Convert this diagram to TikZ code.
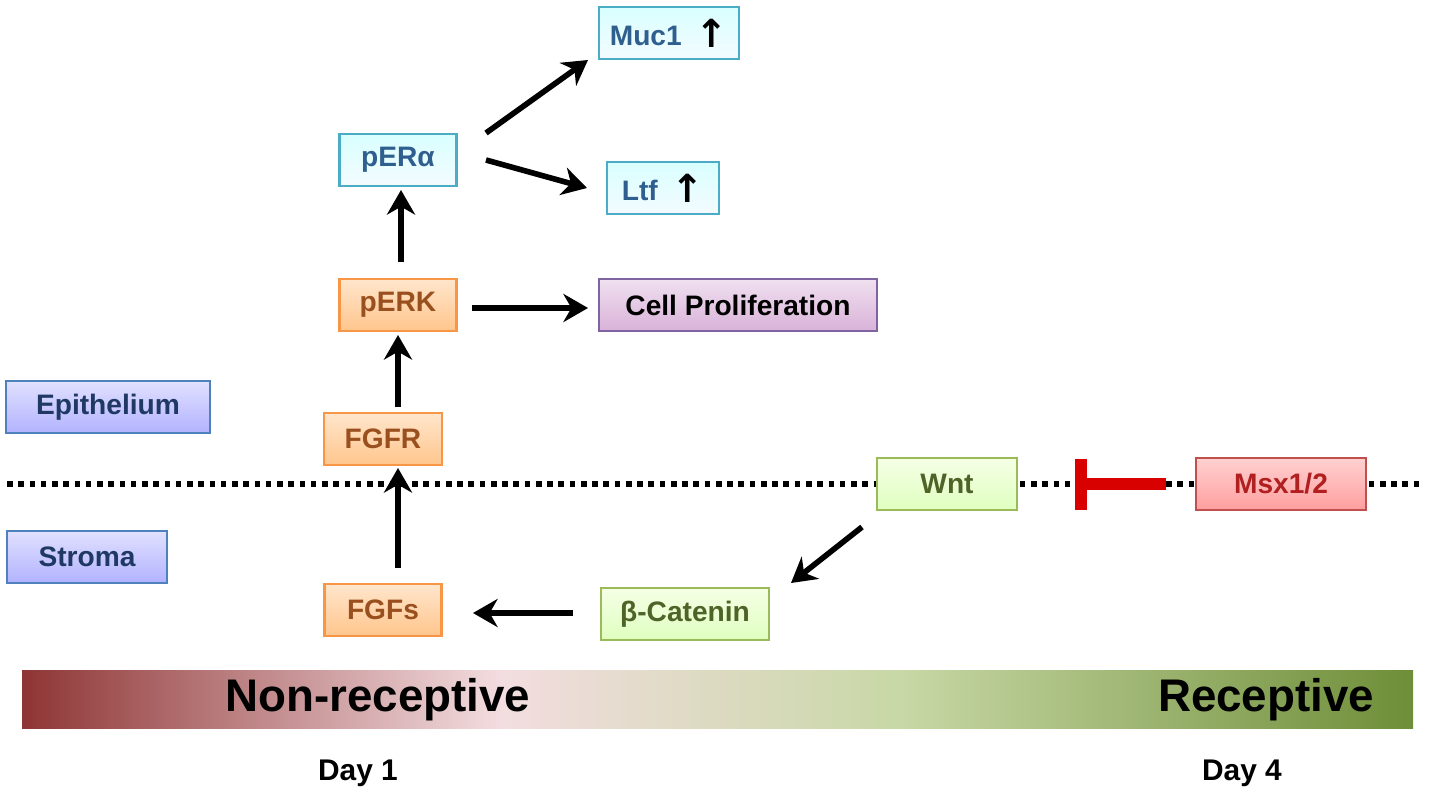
\documentclass[tikz,border=0pt]{standalone}
\usepackage{fontspec}
\setmainfont{Liberation Sans}
\newfontfamily\djv{DejaVu Sans}
\usetikzlibrary{arrows.meta}
\definecolor{bB}{HTML}{4BACC6}\definecolor{bT}{HTML}{2F5F8F}
\definecolor{oB}{HTML}{F79646}\definecolor{oT}{HTML}{9A4F1E}
\definecolor{pB}{HTML}{8064A2}
\definecolor{gB}{HTML}{9BBB59}\definecolor{gT}{HTML}{4F6228}
\definecolor{rB}{HTML}{C0504D}\definecolor{rT}{HTML}{B02020}
\definecolor{eB}{HTML}{4F81BD}\definecolor{eT}{HTML}{1F3864}
\definecolor{c1}{HTML}{8E3535}\definecolor{c2}{HTML}{F3DDE0}
\definecolor{c3}{HTML}{C8D8A6}\definecolor{c4}{HTML}{6E8E38}
\newcommand{\upar}{\raisebox{-0.5pt}{\djv\bfseries\fontsize{11}{11}\selectfont\textcolor{black}{↑}}}
\tikzset{
 bx/.style={draw, line width=0.6pt, minimum height=0.52cm, inner sep=0pt, font=\bfseries\fontsize{8}{9}\selectfont},
 blu/.style={bx, draw=bB, top color=cyan!15, bottom color=cyan!35!white!85!blue!10, text=bT},
 org/.style={bx, draw=oB, top color=orange!20, bottom color=orange!45, text=oT},
 pur/.style={bx, draw=pB, top color=violet!12, bottom color=violet!30, text=black},
 grn/.style={bx, draw=gB, top color=green!40!yellow!10, bottom color=green!50!yellow!25, text=gT},
 red/.style={bx, draw=rB, top color=red!18, bottom color=red!38, text=rT},
 tis/.style={bx, draw=eB, top color=blue!12, bottom color=blue!30, text=eT},
 ar/.style={-{Stealth[length=7pt,width=8pt]}, line width=1.6pt},
 lab/.style={font=\bfseries\fontsize{8.5}{10}\selectfont}
}
\begin{document}
\begin{tikzpicture}[x=0.01cm,y=-0.01cm]
\useasboundingbox (0,0) rectangle (1431,800);
\draw[line width=1.6pt, dash pattern=on 1.6pt off 1.6pt] (7,484) -- (1424,484);
\node[blu, minimum width=1.40cm] (muc) at (669,33) {Muc1\enspace\upar};
\node[blu, minimum width=1.12cm] (ltf) at (663,188) {Ltf\enspace\upar};
\node[blu, minimum width=1.17cm] (per) at (398,160) {pERα};
\node[org, minimum width=1.17cm] (perk) at (398,305) {pERK};
\node[pur, minimum width=2.78cm] (cell) at (738,305) {Cell Proliferation};
\node[org, minimum width=1.18cm] (fgfr) at (383,439) {FGFR};
\node[tis, minimum width=2.03cm] (epi) at (108,407) {Epithelium};
\node[tis, minimum width=1.60cm] (str) at (87,557) {Stroma};
\node[org, minimum width=1.17cm] (fgfs) at (383,610) {FGFs};
\node[grn, minimum width=1.68cm] (bcat) at (685,614) {β-Catenin};
\node[grn, minimum width=1.40cm] (wnt) at (947,484) {Wnt};
\node[red, minimum width=1.70cm] (msx) at (1281,484) {Msx1/2};
\coordinate (ib) at (1081,484);
\draw[red!85!black, line width=3.5pt] (msx.west) ++(-29,0) -- (ib);
\draw[red!85!black, line width=3.5pt] (1081,459) -- (1081,510);
\draw[ar] (398,568) -- (398,468);
\draw[ar] (398,407) -- (398,335);
\draw[ar] (401,262) -- (401,190);
\draw[ar] (472,308) -- (588,308);
\draw[ar] (486,133) -- (588,60);
\draw[ar] (486,160) -- (587,188);
\draw[ar] (862,527) -- (791,583);
\draw[ar] (573,613) -- (473,613);
\fill[left color=c1, right color=c2] (22,670) rectangle (501,728);
\fill[left color=c2, right color=c3] (500,670) rectangle (901,728);
\fill[left color=c3, right color=c4] (900,670) rectangle (1413,728);
\node[font=\bfseries\fontsize{13}{15}\selectfont] (nr) at (378,700) {Non-receptive};
\node[font=\bfseries\fontsize{13}{15}\selectfont] (rc) at (1266,700) {Receptive};
\node[lab] (d1) at (358,773) {Day 1};
\node[lab] (d4) at (1242,773) {Day 4};
\end{tikzpicture}
\end{document}
